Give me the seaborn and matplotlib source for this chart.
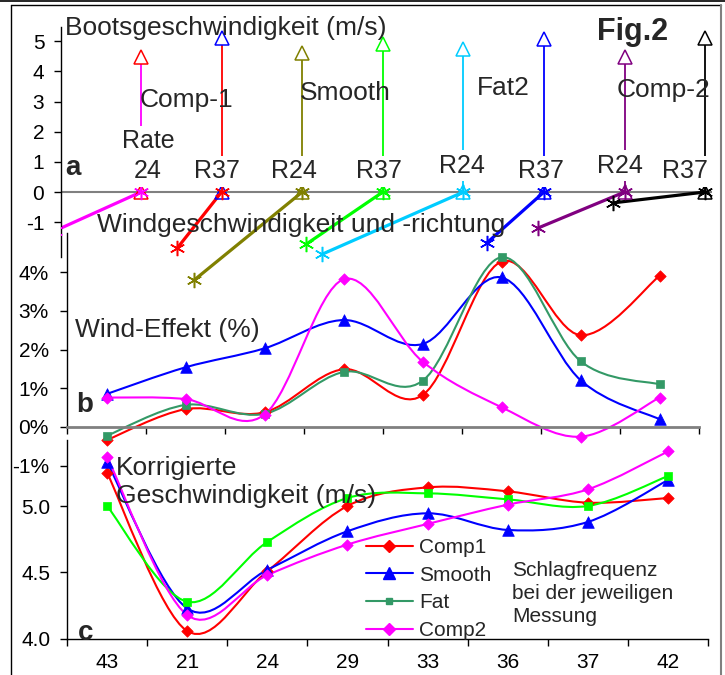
import numpy as np
import pandas as pd
import matplotlib
matplotlib.use("Agg")
import matplotlib.pyplot as plt
import seaborn as sns
from matplotlib.path import Path
from matplotlib.patches import PathPatch
from matplotlib.lines import Line2D

# ---------------- data ----------------
# panel a: boat speed arrows and wind vectors per measurement
a_rate_labels = ["24", "R37", "R24", "R37", "R24", "R37", "R24", "R37"]
boat_speed = [4.48, 5.1, 4.6, 4.9, 4.75, 5.07, 4.47, 5.1]
wind_dx = [-1.07, -0.55, -1.34, -0.95, -1.75, -0.71, -1.07, -1.14]
wind_dy = [-1.29, -1.86, -2.92, -1.73, -2.06, -1.69, -1.19, -0.36]
a_line_colors = ["#FF00FF", "#FF0000", "#808000", "#00FF00",
                 "#00CCFF", "#0000FF", "#800080", "#000000"]
a_tri_colors = ["#FF0000", "#0000FF", "#808000", "#00FF00",
                "#00CCFF", "#0000FF", "#800080", "#000000"]
a_boat_names = ["Comp-1", "Smooth", "Fat2", "Comp-2"]
a_yticks = [-1, 0, 1, 2, 3, 4, 5]

# panels b and c
rates = ["43", "21", "24", "29", "33", "36", "37", "42"]
series_names = ["Comp1", "Smooth", "Fat", "Comp2"]
wind_effect_comp1 = [-0.34, 0.46, 0.38, 1.49, 0.82, 4.27, 2.37, 3.90]
wind_effect_smooth = [0.85, 1.54, 2.03, 2.76, 2.14, 3.86, 1.21, 0.20]
wind_effect_fat = [-0.23, 0.57, 0.34, 1.42, 1.19, 4.38, 1.70, 1.10]
wind_effect_comp2 = [0.76, 0.72, 0.32, 3.81, 1.69, 0.51, -0.25, 0.76]
b_yticks = [-1, 0, 1, 2, 3, 4]

corr_speed_comp1 = [5.25, 4.06, 4.51, 5.00, 5.14, 5.11, 5.025, 5.06]
corr_speed_smooth = [5.33, 4.23, 4.52, 4.81, 4.945, 4.82, 4.88, 5.195]
corr_speed_fat = [5.00, 4.28, 4.73, 5.06, 5.095, 5.05, 5.00, 5.225]
corr_speed_comp2 = [5.37, 4.18, 4.48, 4.71, 4.865, 5.01, 5.125, 5.41]
c_yticks = [4.0, 4.5, 5.0]

# ---------------- style ----------------
sns.set_theme(style="ticks")
plt.rcParams["font.family"] = ["Liberation Sans", "DejaVu Sans"]
plt.rcParams["axes.edgecolor"] = "black"
plt.rcParams["xtick.color"] = "black"
plt.rcParams["ytick.color"] = "black"

W, H = 725, 675
fig = plt.figure(figsize=(W / 100, H / 100), dpi=100)
fig.patch.set_facecolor("white")


def rect(x0, y0, x1, y1):
    return [x0 / W, 1 - y1 / H, (x1 - x0) / W, (y1 - y0) / H]


def ftext(px, py, s, **kw):
    kw.setdefault("va", "baseline")
    return fig.text(px / W, 1 - py / H, s, **kw)


def smooth_path(xs, ys):
    P = np.column_stack([xs, ys]).astype(float)
    n = len(P)
    E = np.vstack([P[0], P, P[-1]])
    verts = [P[0]]
    codes = [Path.MOVETO]
    for i in range(n - 1):
        p0, p1, p2, p3 = E[i], E[i + 1], E[i + 2], E[i + 3]
        verts += [p1 + (p2 - p0) / 6.0, p2 - (p3 - p1) / 6.0, p2]
        codes += [Path.CURVE4] * 3
    return Path(verts, codes)


axb = fig.add_axes(rect(67, 233, 699, 470))
axc = fig.add_axes(rect(67, 440, 708, 639))
axa = fig.add_axes(rect(61, 20, 712, 290))
for ax in (axa, axb, axc):
    ax.patch.set_visible(False)
    ax.spines["top"].set_visible(False)
    ax.spines["right"].set_visible(False)

# ---------------- panel a ----------------
col0_px, col_step = 141.0, 80.6
zero_py, unit_py = 192.0, 30.15
axa.set_xlim((61 - col0_px) / col_step, (712 - col0_px) / col_step)
axa.set_ylim((zero_py - 290) / unit_py, (zero_py - 20) / unit_py)
axa.spines["bottom"].set_visible(False)
axa.spines["left"].set_bounds((zero_py - 257) / unit_py, (zero_py - 27) / unit_py)
axa.spines["left"].set_linewidth(1)
axa.set_xticks([])
axa.set_yticks(a_yticks)
axa.set_yticklabels([str(v) for v in a_yticks])
axa.tick_params(axis="y", length=5, width=1, pad=7, labelsize=15)
axa.axhline(0, color="#808080", lw=1.5, zorder=1)

star = (6, 2, 0)
for i in range(8):
    df_arrow = pd.DataFrame({"x": [i, i], "y": [0, boat_speed[i]]})
    sns.lineplot(data=df_arrow, x="x", y="y", estimator=None, sort=False,
                 color=a_line_colors[i], lw=1.3, ax=axa, legend=False, zorder=2)
    df_wind = pd.DataFrame({"x": [i, i + wind_dx[i]], "y": [0, wind_dy[i]]})
    sns.lineplot(data=df_wind, x="x", y="y", estimator=None, sort=False,
                 color=a_line_colors[i], lw=2.3, ax=axa, legend=False, zorder=2)
    axa.plot([i], [boat_speed[i]], ls="none", marker="^", ms=10, mfc="white",
             mec=a_tri_colors[i], mew=1.1, zorder=4)
    axa.plot([i], [0], ls="none", marker="^", ms=10, mfc="none",
             mec=a_tri_colors[i], mew=1.1, zorder=4)
    axa.plot([i, i + wind_dx[i]], [0, wind_dy[i]], ls="none", marker=star,
             ms=11, mec=a_line_colors[i], mew=1.1, zorder=5)
axa.set_xlabel("")
axa.set_ylabel("")

# panel a texts
big = 19
ftext(65, 35, "Bootsgeschwindigkeit (m/s)", fontsize=big)
ftext(597, 40, "Fig.2", fontsize=22, fontweight="bold")
ftext(140, 107, a_boat_names[0], fontsize=big)
ftext(300, 100, a_boat_names[1], fontsize=big)
ftext(477, 95, a_boat_names[2], fontsize=big)
ftext(617, 97, a_boat_names[3], fontsize=big)
ftext(65, 175, "a", fontsize=20, fontweight="bold")
ftext(97, 232, "Windgeschwindigkeit und -richtung", fontsize=big)
wbox = dict(facecolor="white", edgecolor="none", pad=2.5)
ftext(148, 148, "Rate", fontsize=18, ha="center", bbox=wbox)
rate_px = [148, 217, 294, 379, 462, 541, 620, 685]
rate_py = [178, 178, 178, 178, 173, 178, 173, 178]
for i in range(8):
    ftext(rate_px[i], rate_py[i], a_rate_labels[i], fontsize=18, ha="center", bbox=wbox)

# ---------------- panel b ----------------
b_zero_py, b_unit_py = 427.0, 38.75
axb.set_xlim(-0.5, 7.5)
axb.set_ylim((b_zero_py - 470) / b_unit_py, (b_zero_py - 233) / b_unit_py)
axb.spines["bottom"].set_position(("data", 0))
axb.spines["bottom"].set_color("#808080")
axb.spines["bottom"].set_linewidth(2)
axb.spines["left"].set_bounds(0, (b_zero_py - 233) / b_unit_py)
axb.spines["left"].set_linewidth(1)
axb.set_xticks(np.arange(-0.5, 8, 1))
axb.set_xticklabels([])
axb.tick_params(axis="x", length=5, width=1, color="black", direction="out")
axb.set_yticks(b_yticks)
axb.set_yticklabels([f"{v}%" for v in b_yticks])
axb.tick_params(axis="y", length=5, width=1, pad=8, labelsize=15)

b_series = [
    (wind_effect_comp1, "#FF0000", "D", 34),
    (wind_effect_smooth, "#0000FF", "^", 70),
    (wind_effect_fat, "#339966", "s", 26),
    (wind_effect_comp2, "#FF00FF", "D", 34),
]
xs = np.arange(len(rates))
for vals, col, mk, sz in b_series:
    axb.add_patch(PathPatch(smooth_path(xs, vals), fill=False, edgecolor=col,
                            lw=1.5, transform=axb.transData, zorder=2))
    sns.scatterplot(x=xs, y=vals, marker=mk, s=sz, color=col, edgecolor=col,
                    linewidth=0.5, ax=axb, legend=False, zorder=3)
axb.set_xlabel("")
axb.set_ylabel("")
ftext(75, 337, "Wind-Effekt (%)", fontsize=big)
ftext(76, 412, "b", fontsize=20, fontweight="bold")

# ---------------- panel c ----------------
axc.set_xlim(-0.5, 7.5)
axc.set_ylim(4.0, 4.0 + (639 - 440) / 133.0)
axc.spines["left"].set_linewidth(1)
axc.spines["bottom"].set_linewidth(1)
axc.set_xticks(np.arange(-0.5, 8, 1))
axc.set_xticklabels([])
axc.set_xticks(xs, minor=True)
axc.set_xticklabels(rates, minor=True)
axc.tick_params(axis="x", which="major", length=5, width=1, direction="out")
axc.tick_params(axis="x", which="minor", length=0, pad=10, labelsize=15)
axc.set_yticks(c_yticks)
axc.set_yticklabels([f"{v:.1f}" for v in c_yticks])
axc.tick_params(axis="y", length=5, width=1, pad=7, labelsize=15)

c_series = [
    (corr_speed_comp1, "#FF0000", "D", 34),
    (corr_speed_smooth, "#0000FF", "^", 70),
    (corr_speed_fat, "#00FF00", "s", 30),
    (corr_speed_comp2, "#FF00FF", "D", 34),
]
for vals, col, mk, sz in c_series:
    axc.add_patch(PathPatch(smooth_path(xs, vals), fill=False, edgecolor=col,
                            lw=1.5, transform=axc.transData, zorder=2))
    sns.scatterplot(x=xs, y=vals, marker=mk, s=sz, color=col, edgecolor=col,
                    linewidth=0.5, ax=axc, legend=False, zorder=3)
axc.set_xlabel("")
axc.set_ylabel("")

ftext(116, 475, "Korrigierte", fontsize=big)
ftext(116, 503, "Geschwindigkeit (m/s)", fontsize=big)
ftext(78, 640, "c", fontsize=20, fontweight="bold")
ftext(512, 576, "Schlagfrequenz", fontsize=15)
ftext(512, 599, "bei der jeweiligen", fontsize=15)
ftext(512, 622, "Messung", fontsize=15)

legend_styles = [("#FF0000", "D", 6), ("#0000FF", "^", 8),
                 ("#339966", "s", 4.5), ("#FF00FF", "D", 6)]
handles = [Line2D([], [], color=c, marker=m, ms=ms, lw=1.5)
           for c, m, ms in legend_styles]
axc.legend(handles, series_names, loc="upper left",
           bbox_to_anchor=(366 / W, 1 - 538 / H), bbox_transform=fig.transFigure,
           frameon=False, fontsize=15, handlelength=2.25, handletextpad=0.3,
           labelspacing=0.42, borderpad=0, borderaxespad=0)

# ---------------- outer frame ----------------
fig.add_artist(Line2D([0, 1], [1 - 0.8 / H, 1 - 0.8 / H], color="black", lw=1.2,
                      transform=fig.transFigure))
fig.add_artist(Line2D([11 / W, 721 / W], [1 - 4.5 / H, 1 - 4.5 / H], color="black",
                      lw=1, transform=fig.transFigure))
fig.add_artist(Line2D([11 / W, 11 / W], [0, 1 - 4.5 / H], color="black", lw=1,
                      transform=fig.transFigure))
fig.add_artist(Line2D([721 / W, 721 / W], [0, 1 - 4.5 / H], color="#808080", lw=1.5,
                      transform=fig.transFigure))

fig.savefig("out.png", dpi=100, facecolor="white")
